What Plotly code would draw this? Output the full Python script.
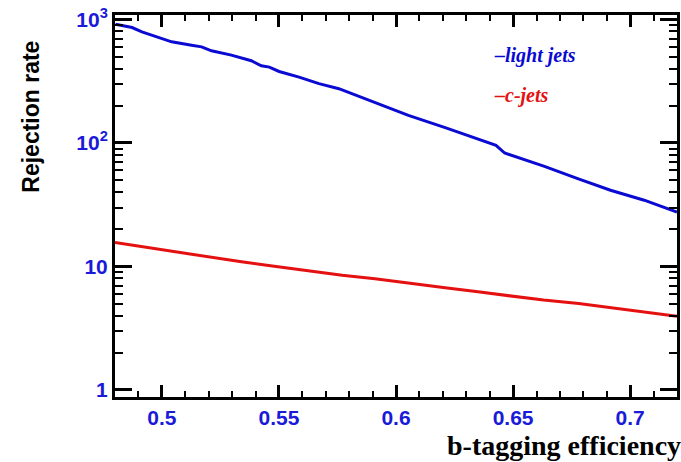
import plotly.graph_objects as go

eff_light = [0.4802, 0.4873, 0.4915, 0.4958, 0.5042, 0.5127, 0.517, 0.5212, 0.5297, 0.5382,
             0.5425, 0.5459, 0.5501, 0.5586, 0.5671, 0.5756, 0.5841, 0.5926, 0.6053, 0.621,
             0.635, 0.6427, 0.6464, 0.6634, 0.6776, 0.6916, 0.706, 0.720]
rej_light = [915, 860, 794, 745, 659, 619, 600, 557, 514, 463,
             422, 411, 379, 341, 302, 275, 239, 208, 167, 133,
             108, 95.7, 82.9, 64.7, 51.5, 41.4, 34.4, 27.6]

eff_c = [0.480, 0.492, 0.506, 0.520, 0.534, 0.548, 0.563, 0.577, 0.591, 0.606,
         0.621, 0.635, 0.649, 0.663, 0.678, 0.692, 0.706, 0.720]
rej_c = [15.6, 14.4, 13.1, 11.9, 10.9, 10.05, 9.16, 8.5, 7.95, 7.28,
         6.71, 6.23, 5.75, 5.34, 5.02, 4.66, 4.30, 3.96]

x_tickvals = [0.5, 0.55, 0.6, 0.65, 0.7]
x_ticktext = ["0.5", "0.55", "0.6", "0.65", "0.7"]
y_tickvals = [1, 10, 100, 1000]
y_ticktext = ["1", "10", "10<sup>2</sup>", "10<sup>3</sup>"]
y_minor = [m * d for d in (1, 10, 100) for m in range(2, 10)]

BLUE = "#0a0ad2"
RED = "#e51010"
LABEL = "#1a1ad8"

fig = go.Figure()
fig.add_trace(go.Scatter(x=eff_light, y=rej_light, mode="lines", name="light jets",
                         line=dict(color=BLUE, width=3), showlegend=False))
fig.add_trace(go.Scatter(x=eff_c, y=rej_c, mode="lines", name="c-jets",
                         line=dict(color=RED, width=3), showlegend=False))

fig.update_xaxes(range=[0.48, 0.72], showgrid=False, zeroline=False,
                 showline=True, linecolor="black", linewidth=3, mirror="ticks",
                 ticks="inside", ticklen=12, tickwidth=2.5, tickcolor="black",
                 tickvals=x_tickvals, ticktext=x_ticktext,
                 tickfont=dict(family="Liberation Sans, Arial", size=21, color=LABEL, weight="bold"),
                 minor=dict(dtick=0.01, ticks="inside", ticklen=6, tickwidth=2, tickcolor="black"))
fig.update_yaxes(type="log", range=[-0.057, 3.036], showgrid=False, zeroline=False,
                 showline=True, linecolor="black", linewidth=3, mirror="ticks",
                 ticks="inside", ticklen=17, tickwidth=2.5, tickcolor="black",
                 tickvals=y_tickvals, ticktext=y_ticktext,
                 tickfont=dict(family="Liberation Sans, Arial", size=21, color=LABEL, weight="bold"),
                 minor=dict(tickvals=y_minor, ticks="inside", ticklen=8, tickwidth=2, tickcolor="black"))

fig.add_annotation(xref="paper", yref="paper", x=-0.15, y=0.733, xanchor="center", yanchor="middle",
                   text="<b>Rejection rate</b>", textangle=-90, showarrow=False,
                   font=dict(family="Liberation Sans, Arial", size=23, color="black"))
fig.add_annotation(xref="paper", yref="paper", x=1.0, y=-0.126, xanchor="right", yanchor="middle",
                   xshift=6, text="<b>b-tagging efficiency</b>", showarrow=False,
                   font=dict(family="Liberation Serif, Times New Roman", size=28, color="black"))

fig.add_annotation(xref="paper", yref="paper", x=0.67, y=0.893, xanchor="left", yanchor="middle",
                   text="<b><i>–light jets</i></b>", showarrow=False,
                   font=dict(family="Liberation Serif, Times New Roman", size=20, color=BLUE))
fig.add_annotation(xref="paper", yref="paper", x=0.67, y=0.788, xanchor="left", yanchor="middle",
                   text="<b><i>–c-jets</i></b>", showarrow=False,
                   font=dict(family="Liberation Serif, Times New Roman", size=20, color=RED))

fig.update_layout(width=681, height=462, margin=dict(l=115, r=1, t=15, b=65),
                  paper_bgcolor="white", plot_bgcolor="white", showlegend=False)

fig.write_html("out.html", config={"displayModeBar": False},
               post_script="document.body.style.margin='0px';")
